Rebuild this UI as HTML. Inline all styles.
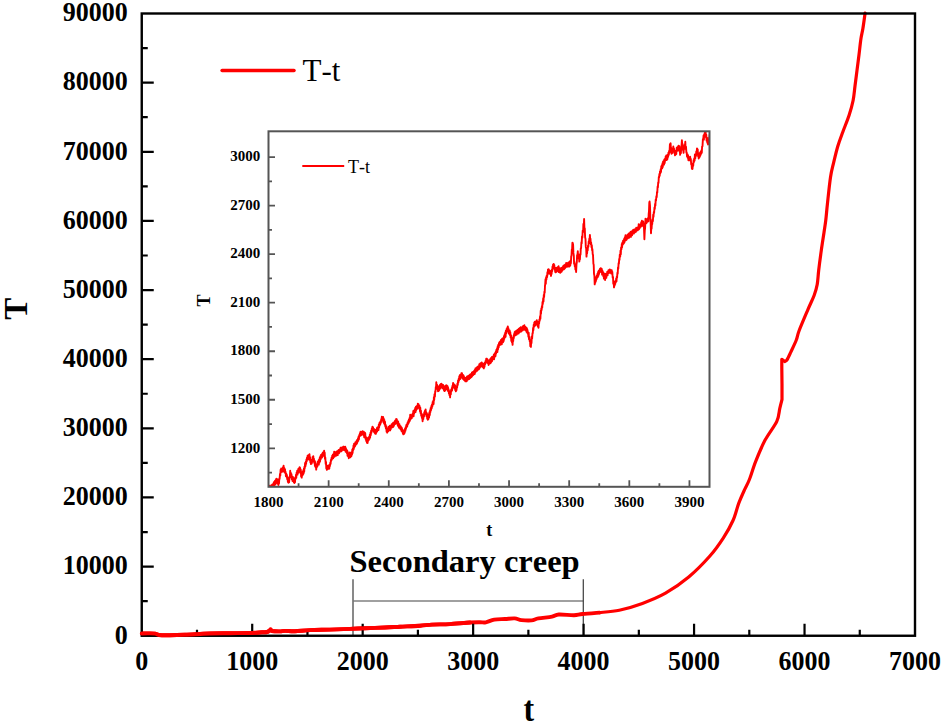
<!DOCTYPE html>
<html><head><meta charset="utf-8"><style>
html,body{margin:0;padding:0;background:#fff;width:943px;height:726px;overflow:hidden;}
body{position:relative;font-family:"Liberation Serif",serif;}
text{font-kerning:none;}
</style></head><body>
<svg width="943" height="726" viewBox="0 0 943 726" style="position:absolute;left:0;top:0">
<path d="M353.6,601 H583.3" stroke="#808080" stroke-width="1.3" fill="none"/>
<path d="M353,579.3 V635 M583.3,579.3 V635" stroke="#444" stroke-width="1.25" fill="none"/>
<path d="M599.50,612.60 C602.80,612.20 612.15,611.73 619.30,610.20 C626.45,608.67 634.70,606.23 642.40,603.40 C650.10,600.57 657.78,597.60 665.50,593.20 C673.22,588.80 681.30,583.20 688.70,577.00 C696.10,570.80 704.12,562.53 709.90,556.00 C715.68,549.47 719.55,543.72 723.40,537.80 C727.25,531.88 730.43,526.28 733.00,520.50 C735.57,514.72 736.87,508.25 738.80,503.10 C740.73,497.95 742.83,493.53 744.60,489.60 C746.37,485.67 747.53,484.25 749.40,479.50 C751.27,474.75 753.18,467.67 755.80,461.10 C758.42,454.53 761.60,446.73 765.10,440.10 C768.60,433.47 774.35,426.60 776.80,421.30 C779.25,416.00 778.93,411.93 779.80,408.30 C780.67,404.67 781.63,400.97 782.00,399.50 M782,399.5 L782,384 L781.8,367.5 L781.8,359.3 L784.8,361.5 M784.80,361.50 C785.17,361.22 786.00,361.37 787.00,359.80 C788.00,358.23 789.25,355.40 790.80,352.10 C792.35,348.80 794.93,343.52 796.30,340.00 C797.67,336.48 797.07,336.07 799.00,331.00 C800.93,325.93 805.37,315.57 807.90,309.60 C810.43,303.63 812.65,299.38 814.20,295.20 C815.75,291.02 816.45,288.67 817.20,284.50 C817.95,280.33 818.02,275.88 818.70,270.20 C819.38,264.52 820.42,256.68 821.30,250.40 C822.18,244.12 823.25,237.57 824.00,232.50 C824.75,227.43 825.23,224.73 825.80,220.00 C826.37,215.27 826.62,211.23 827.40,204.10 C828.18,196.97 829.47,184.08 830.50,177.20 C831.53,170.32 832.38,167.97 833.60,162.80 C834.82,157.63 836.25,151.38 837.80,146.20 C839.35,141.02 841.02,136.87 842.90,131.70 C844.78,126.53 847.40,120.40 849.10,115.20 C850.80,110.00 852.12,105.37 853.10,100.50 C854.08,95.63 854.35,91.02 855.00,86.00 C855.65,80.98 856.33,75.62 857.00,70.40 C857.67,65.18 858.35,59.93 859.00,54.70 C859.65,49.47 860.25,43.37 860.90,39.00 C861.55,34.63 862.20,32.82 862.90,28.50 C863.60,24.18 864.73,15.67 865.10,13.10" fill="none" stroke="#ff0000" stroke-width="3.2" stroke-linejoin="round" stroke-linecap="round"/>
<path d="M141.80,633.50 C142.83,633.48 145.80,633.38 148.00,633.40 C150.20,633.42 153.17,633.33 155.00,633.60 C156.83,633.87 156.50,634.73 159.00,635.00 C161.50,635.27 165.67,635.23 170.00,635.20 C174.33,635.17 180.00,635.00 185.00,634.80 C190.00,634.60 195.83,634.22 200.00,634.00 C204.17,633.78 205.00,633.63 210.00,633.50 C215.00,633.37 223.33,633.28 230.00,633.20 C236.67,633.12 244.67,633.15 250.00,633.00 C255.33,632.85 259.17,632.47 262.00,632.30 C264.83,632.13 265.75,632.28 267.00,632.00 C268.25,631.72 268.90,631.03 269.50,630.60 C270.10,630.17 270.18,629.33 270.60,629.40 C271.02,629.47 270.43,630.67 272.00,631.00 C273.57,631.33 277.83,631.42 280.00,631.40 C282.17,631.38 282.50,630.93 285.00,630.90 C287.50,630.87 290.83,631.33 295.00,631.20 C299.17,631.07 304.17,630.37 310.00,630.10 C315.83,629.83 323.33,629.80 330.00,629.60 C336.67,629.40 344.17,629.13 350.00,628.90 C355.83,628.67 359.17,628.43 365.00,628.20 C370.83,627.97 379.17,627.75 385.00,627.50 C390.83,627.25 394.17,627.00 400.00,626.70 C405.83,626.40 414.67,626.05 420.00,625.70 C425.33,625.35 427.00,624.87 432.00,624.60 C437.00,624.33 443.67,624.45 450.00,624.10 C456.33,623.75 465.00,622.82 470.00,622.50 C475.00,622.18 477.37,622.23 480.00,622.20 C482.63,622.17 483.42,622.73 485.80,622.30 C488.18,621.87 491.10,620.15 494.30,619.60 C497.50,619.05 501.60,619.20 505.00,619.00 C508.40,618.80 511.97,618.22 514.70,618.40 C517.43,618.58 518.58,619.77 521.40,620.10 C524.22,620.43 528.77,620.68 531.60,620.40 C534.43,620.12 535.00,619.02 538.40,618.40 C541.80,617.78 548.60,617.35 552.00,616.70 C555.40,616.05 555.13,614.75 558.80,614.50 C562.47,614.25 570.05,615.28 574.00,615.20 C577.95,615.12 578.25,614.43 582.50,614.00 C586.75,613.57 596.67,612.83 599.50,612.60" fill="none" stroke="#ff0000" stroke-width="3.9" stroke-linejoin="round" stroke-linecap="round"/>
<rect x="141.75" y="13.5" width="773.25" height="622.25" fill="none" stroke="#000" stroke-width="2.4"/>
<path d="M196.98,635.75 V629.75 M252.21,635.75 V623.75 M307.45,635.75 V629.75 M362.68,635.75 V623.75 M417.91,635.75 V629.75 M473.14,635.75 V623.75 M528.38,635.75 V629.75 M583.61,635.75 V623.75 M638.84,635.75 V629.75 M694.07,635.75 V623.75 M749.30,635.75 V629.75 M804.54,635.75 V623.75 M859.77,635.75 V629.75 M141.75,601.18 H147.75 M141.75,566.61 H153.75 M141.75,532.04 H147.75 M141.75,497.47 H153.75 M141.75,462.90 H147.75 M141.75,428.33 H153.75 M141.75,393.76 H147.75 M141.75,359.19 H153.75 M141.75,324.62 H147.75 M141.75,290.06 H153.75 M141.75,255.49 H147.75 M141.75,220.92 H153.75 M141.75,186.35 H147.75 M141.75,151.78 H153.75 M141.75,117.21 H147.75 M141.75,82.64 H153.75 M141.75,48.07 H147.75" stroke="#000" stroke-width="2.2" fill="none"/>
<path d="M141.80,633.50 C142.83,633.48 145.80,633.38 148.00,633.40 C150.20,633.42 153.17,633.33 155.00,633.60 C156.83,633.87 156.50,634.73 159.00,635.00 C161.50,635.27 165.67,635.23 170.00,635.20 C174.33,635.17 180.00,635.00 185.00,634.80 C190.00,634.60 195.83,634.22 200.00,634.00 C204.17,633.78 205.00,633.63 210.00,633.50 C215.00,633.37 223.33,633.28 230.00,633.20 C236.67,633.12 244.67,633.15 250.00,633.00 C255.33,632.85 259.17,632.47 262.00,632.30 C264.83,632.13 265.75,632.28 267.00,632.00 C268.25,631.72 268.90,631.03 269.50,630.60 C270.10,630.17 270.18,629.33 270.60,629.40 C271.02,629.47 270.43,630.67 272.00,631.00 C273.57,631.33 277.83,631.42 280.00,631.40 C282.17,631.38 282.50,630.93 285.00,630.90 C287.50,630.87 290.83,631.33 295.00,631.20 C299.17,631.07 304.17,630.37 310.00,630.10 C315.83,629.83 323.33,629.80 330.00,629.60 C336.67,629.40 344.17,629.13 350.00,628.90 C355.83,628.67 359.17,628.43 365.00,628.20 C370.83,627.97 379.17,627.75 385.00,627.50 C390.83,627.25 394.17,627.00 400.00,626.70 C405.83,626.40 414.67,626.05 420.00,625.70 C425.33,625.35 427.00,624.87 432.00,624.60 C437.00,624.33 443.67,624.45 450.00,624.10 C456.33,623.75 466.67,622.77 470.00,622.50" fill="none" stroke="#ff0000" stroke-width="3.9" stroke-linejoin="round" stroke-linecap="round"/>
<text transform="translate(141.75,670.1) scale(1,1.09)" font-family='"Liberation Serif", serif' font-weight="bold" font-size="26" text-anchor="middle">0</text>
<text transform="translate(252.21,670.1) scale(1,1.09)" font-family='"Liberation Serif", serif' font-weight="bold" font-size="26" text-anchor="middle">1000</text>
<text transform="translate(362.68,670.1) scale(1,1.09)" font-family='"Liberation Serif", serif' font-weight="bold" font-size="26" text-anchor="middle">2000</text>
<text transform="translate(473.14,670.1) scale(1,1.09)" font-family='"Liberation Serif", serif' font-weight="bold" font-size="26" text-anchor="middle">3000</text>
<text transform="translate(583.61,670.1) scale(1,1.09)" font-family='"Liberation Serif", serif' font-weight="bold" font-size="26" text-anchor="middle">4000</text>
<text transform="translate(694.07,670.1) scale(1,1.09)" font-family='"Liberation Serif", serif' font-weight="bold" font-size="26" text-anchor="middle">5000</text>
<text transform="translate(804.54,670.1) scale(1,1.09)" font-family='"Liberation Serif", serif' font-weight="bold" font-size="26" text-anchor="middle">6000</text>
<text transform="translate(915.00,670.1) scale(1,1.09)" font-family='"Liberation Serif", serif' font-weight="bold" font-size="26" text-anchor="middle">7000</text>
<text transform="translate(127.8,643.50) scale(1,1.09)" font-family='"Liberation Serif", serif' font-weight="bold" font-size="26" text-anchor="end">0</text>
<text transform="translate(127.8,574.36) scale(1,1.09)" font-family='"Liberation Serif", serif' font-weight="bold" font-size="26" text-anchor="end">10000</text>
<text transform="translate(127.8,505.22) scale(1,1.09)" font-family='"Liberation Serif", serif' font-weight="bold" font-size="26" text-anchor="end">20000</text>
<text transform="translate(127.8,436.08) scale(1,1.09)" font-family='"Liberation Serif", serif' font-weight="bold" font-size="26" text-anchor="end">30000</text>
<text transform="translate(127.8,366.94) scale(1,1.09)" font-family='"Liberation Serif", serif' font-weight="bold" font-size="26" text-anchor="end">40000</text>
<text transform="translate(127.8,297.81) scale(1,1.09)" font-family='"Liberation Serif", serif' font-weight="bold" font-size="26" text-anchor="end">50000</text>
<text transform="translate(127.8,228.67) scale(1,1.09)" font-family='"Liberation Serif", serif' font-weight="bold" font-size="26" text-anchor="end">60000</text>
<text transform="translate(127.8,159.53) scale(1,1.09)" font-family='"Liberation Serif", serif' font-weight="bold" font-size="26" text-anchor="end">70000</text>
<text transform="translate(127.8,90.39) scale(1,1.09)" font-family='"Liberation Serif", serif' font-weight="bold" font-size="26" text-anchor="end">80000</text>
<text transform="translate(127.8,21.25) scale(1,1.09)" font-family='"Liberation Serif", serif' font-weight="bold" font-size="26" text-anchor="end">90000</text>
<text transform="translate(528.8,720.9) scale(1,1.1)" font-family='"Liberation Serif", serif' font-weight="bold" font-size="32" text-anchor="middle">t</text>
<text transform="translate(26.5,308.7) rotate(-90)" x="0" y="0" font-family='"Liberation Serif", serif' font-weight="bold" font-size="33" text-anchor="middle">T</text>
<line x1="222.1" y1="70.6" x2="294" y2="70.6" stroke="#ff0000" stroke-width="3.5" stroke-linecap="round"/>
<text x="302.5" y="81.4" font-family='"Liberation Serif", serif' font-size="31">T-t</text>
<text x="349.5" y="571.5" font-family='"Liberation Serif", serif' font-weight="bold" font-size="32.5">Secondary creep</text>
<rect x="268.5" y="131.3" width="441.0" height="355.5" fill="#fff" stroke="none"/>
<clipPath id="ic"><rect x="268.5" y="131.3" width="441.0" height="355.5"/></clipPath>
<path clip-path="url(#ic)" d="M266.3,489.0 L266.6,492.3 L266.9,488.4 L267.2,491.1 L267.5,488.8 L267.8,490.8 L268.1,488.0 L268.5,490.6 L268.8,487.4 L269.1,490.9 L269.4,485.7 L269.7,490.2 L270.0,487.4 L270.3,490.4 L270.6,486.2 L271.0,489.2 L271.3,485.2 L271.6,489.1 L271.9,485.4 L272.2,488.1 L272.6,484.1 L272.9,487.2 L273.2,483.9 L273.5,487.2 L273.8,482.3 L274.1,485.8 L274.4,482.6 L274.7,484.4 L275.0,480.8 L275.4,484.6 L275.7,480.0 L276.0,483.3 L276.3,478.8 L276.6,482.2 L276.9,479.0 L277.2,482.7 L277.5,479.4 L277.8,483.8 L278.1,482.0 L278.4,485.0 L278.7,483.4 L279.0,483.5 L279.3,478.5 L279.6,479.0 L280.0,473.9 L280.3,475.6 L280.6,469.8 L280.9,472.5 L281.2,468.4 L281.5,471.8 L281.8,469.0 L282.1,471.9 L282.4,468.9 L282.7,471.2 L283.0,467.1 L283.3,470.9 L283.6,465.7 L284.0,471.6 L284.3,468.0 L284.6,472.2 L285.0,469.3 L285.3,473.2 L285.6,471.9 L285.9,476.1 L286.3,473.8 L286.6,476.9 L286.9,475.0 L287.2,479.1 L287.5,477.2 L287.9,481.9 L288.2,479.0 L288.5,482.7 L288.8,481.0 L289.1,482.4 L289.5,476.9 L289.9,477.4 L290.2,470.7 L290.5,476.5 L290.9,472.9 L291.2,477.1 L291.5,474.3 L291.8,479.2 L292.2,476.5 L292.5,481.0 L292.8,476.8 L293.1,481.3 L293.4,477.9 L293.8,482.2 L294.1,479.0 L294.4,483.0 L294.7,478.7 L295.0,482.3 L295.3,477.5 L295.6,479.0 L296.0,474.8 L296.3,477.7 L296.6,472.6 L296.9,474.5 L297.2,470.7 L297.5,474.6 L297.8,470.8 L298.1,473.1 L298.4,468.8 L298.7,472.3 L299.0,468.3 L299.3,471.1 L299.6,467.2 L299.9,470.2 L300.2,468.0 L300.5,473.3 L300.8,469.7 L301.1,476.5 L301.4,473.7 L301.7,477.6 L302.0,473.5 L302.3,475.7 L302.7,471.8 L303.0,474.7 L303.3,470.2 L303.6,473.5 L303.9,468.5 L304.2,471.8 L304.5,466.6 L304.8,468.2 L305.1,462.9 L305.5,466.1 L305.8,461.7 L306.1,464.0 L306.4,459.5 L306.7,461.3 L307.0,457.6 L307.3,459.9 L307.6,455.8 L307.9,459.6 L308.2,455.3 L308.6,458.7 L308.9,455.1 L309.2,458.2 L309.5,454.3 L309.8,460.0 L310.1,457.2 L310.4,462.5 L310.7,460.5 L311.0,464.1 L311.3,461.2 L311.7,463.6 L312.0,459.6 L312.3,462.0 L312.6,457.0 L313.0,459.9 L313.3,456.2 L313.6,461.3 L313.9,458.7 L314.3,462.8 L314.6,460.8 L314.9,465.9 L315.2,461.9 L315.6,467.2 L315.9,465.3 L316.2,469.6 L316.5,465.6 L316.9,467.1 L317.2,463.9 L317.5,466.1 L317.8,461.6 L318.2,464.3 L318.5,460.5 L318.8,464.6 L319.1,459.4 L319.5,462.6 L319.8,457.5 L320.1,461.2 L320.4,456.1 L320.8,459.1 L321.1,454.7 L321.4,457.5 L321.7,454.5 L322.0,457.6 L322.3,453.5 L322.6,456.6 L322.9,452.4 L323.2,455.9 L323.5,452.2 L323.8,454.6 L324.1,450.7 L324.4,453.0 L324.7,452.7 L325.0,459.0 L325.3,457.5 L325.7,464.0 L326.0,461.9 L326.3,468.4 L326.6,467.0 L326.9,469.8 L327.2,467.0 L327.5,469.2 L327.8,465.6 L328.1,468.9 L328.4,465.8 L328.7,468.1 L329.0,465.2 L329.3,468.7 L329.6,464.7 L329.9,466.2 L330.3,462.6 L330.6,464.0 L330.9,459.9 L331.2,460.9 L331.6,457.6 L331.9,459.8 L332.2,455.8 L332.5,458.5 L332.9,454.4 L333.2,458.2 L333.5,454.2 L333.8,456.4 L334.2,451.6 L334.5,456.7 L334.8,452.1 L335.1,455.2 L335.4,452.2 L335.8,455.9 L336.1,451.9 L336.4,455.6 L336.7,451.5 L337.1,454.9 L337.4,451.1 L337.7,455.1 L338.0,450.8 L338.3,453.4 L338.6,450.0 L339.0,453.3 L339.3,450.1 L339.6,452.2 L339.9,449.2 L340.2,451.6 L340.6,447.7 L340.9,451.4 L341.2,447.6 L341.6,451.2 L341.9,448.0 L342.2,450.2 L342.5,447.2 L342.9,449.4 L343.2,446.8 L343.5,449.9 L343.8,446.8 L344.2,450.1 L344.5,447.5 L344.9,450.3 L345.2,446.7 L345.6,451.7 L345.9,448.2 L346.2,451.8 L346.5,450.0 L346.9,453.2 L347.2,450.4 L347.5,455.7 L347.8,452.0 L348.2,456.3 L348.5,453.9 L348.8,458.2 L349.1,454.8 L349.4,457.3 L349.8,452.5 L350.1,457.4 L350.4,452.6 L350.7,456.8 L351.1,452.7 L351.4,456.3 L351.7,452.1 L352.0,454.6 L352.3,449.5 L352.6,453.0 L352.9,448.4 L353.2,450.1 L353.5,445.5 L353.8,449.0 L354.1,443.6 L354.4,447.2 L354.7,444.0 L355.1,446.3 L355.4,442.3 L355.7,444.9 L356.0,442.2 L356.4,444.4 L356.7,440.5 L357.0,443.5 L357.3,439.8 L357.6,441.9 L358.0,438.3 L358.3,440.9 L358.6,436.5 L358.9,439.4 L359.3,434.9 L359.6,436.4 L359.9,433.3 L360.2,435.6 L360.5,431.8 L360.9,435.5 L361.2,432.0 L361.5,435.0 L361.8,432.0 L362.2,434.4 L362.5,431.2 L362.8,434.2 L363.1,431.9 L363.5,435.2 L363.8,431.7 L364.2,437.3 L364.5,432.4 L364.9,437.4 L365.2,433.0 L365.6,438.9 L365.9,436.9 L366.2,440.9 L366.6,439.1 L366.9,442.7 L367.2,438.2 L367.6,443.0 L367.9,438.1 L368.2,440.9 L368.5,437.4 L368.9,440.0 L369.2,436.6 L369.5,439.0 L369.8,434.8 L370.1,437.7 L370.5,432.8 L370.8,435.3 L371.1,430.8 L371.4,432.8 L371.8,428.5 L372.1,430.6 L372.4,426.7 L372.7,430.4 L373.0,427.1 L373.4,430.9 L373.7,428.7 L374.0,432.0 L374.3,429.1 L374.7,432.8 L375.0,430.5 L375.3,433.7 L375.6,429.9 L375.9,433.9 L376.3,429.9 L376.6,432.3 L376.9,428.0 L377.2,431.4 L377.6,427.1 L377.9,430.1 L378.2,427.0 L378.5,430.0 L378.8,424.6 L379.1,427.6 L379.4,423.0 L379.7,425.6 L380.0,422.2 L380.3,424.4 L380.6,421.1 L380.9,422.8 L381.2,419.3 L381.5,420.9 L381.8,416.7 L382.1,420.6 L382.4,417.0 L382.7,420.2 L383.1,417.0 L383.4,422.1 L383.7,418.5 L384.0,423.2 L384.3,419.9 L384.6,424.5 L385.0,421.8 L385.3,426.5 L385.6,424.8 L385.9,428.3 L386.3,426.1 L386.6,431.6 L386.9,428.8 L387.2,432.6 L387.5,428.6 L387.8,431.4 L388.1,428.2 L388.4,431.2 L388.7,426.8 L389.0,430.1 L389.3,426.9 L389.6,429.3 L389.9,425.8 L390.2,430.4 L390.5,425.9 L390.8,429.3 L391.1,425.4 L391.4,427.6 L391.7,424.1 L392.0,427.1 L392.4,423.6 L392.7,427.2 L393.0,422.9 L393.3,426.7 L393.6,422.4 L393.9,425.9 L394.2,422.1 L394.6,424.3 L394.9,420.9 L395.2,423.9 L395.5,420.3 L395.9,423.8 L396.2,418.9 L396.5,422.6 L396.8,419.3 L397.1,423.1 L397.5,421.4 L397.8,425.5 L398.1,421.4 L398.4,426.4 L398.7,423.4 L399.0,427.7 L399.4,424.1 L399.7,427.8 L400.0,425.8 L400.3,428.9 L400.6,426.1 L400.9,429.6 L401.3,427.2 L401.6,431.1 L401.9,428.0 L402.2,431.8 L402.5,429.6 L402.9,433.6 L403.2,431.0 L403.5,434.3 L403.8,431.9 L404.1,433.9 L404.4,430.1 L404.7,432.9 L405.1,428.4 L405.4,431.0 L405.7,427.1 L406.0,428.9 L406.3,425.0 L406.6,427.5 L407.0,424.1 L407.3,426.2 L407.6,422.5 L407.9,424.4 L408.3,420.9 L408.6,423.1 L408.9,419.5 L409.2,422.0 L409.6,417.9 L409.9,420.7 L410.2,414.7 L410.5,419.2 L410.8,415.4 L411.1,418.2 L411.4,415.3 L411.7,418.4 L412.0,414.6 L412.3,417.0 L412.6,413.6 L412.9,415.8 L413.3,411.0 L413.6,416.3 L413.9,411.3 L414.2,413.6 L414.6,409.7 L414.9,412.3 L415.2,407.9 L415.6,412.0 L415.9,406.8 L416.2,410.3 L416.5,406.3 L416.8,409.3 L417.1,406.1 L417.5,408.1 L417.8,403.8 L418.1,407.5 L418.4,404.0 L418.7,406.9 L419.0,405.1 L419.3,408.7 L419.6,406.0 L420.0,411.4 L420.3,407.7 L420.6,413.3 L420.9,410.6 L421.2,415.8 L421.6,413.6 L421.9,418.0 L422.3,417.1 L422.6,421.3 L422.9,416.6 L423.3,419.1 L423.6,414.5 L424.0,416.6 L424.3,412.3 L424.6,414.3 L425.0,410.7 L425.3,412.6 L425.6,409.4 L425.9,414.4 L426.2,412.3 L426.5,416.3 L426.9,413.2 L427.2,418.6 L427.5,415.7 L427.8,419.7 L428.1,415.8 L428.4,419.2 L428.8,414.3 L429.1,417.4 L429.4,412.3 L429.8,415.1 L430.1,410.3 L430.4,412.1 L430.7,407.9 L431.1,410.1 L431.4,405.9 L431.7,408.4 L432.0,404.5 L432.3,406.7 L432.7,401.9 L433.0,404.7 L433.3,400.8 L433.6,404.0 L433.9,397.1 L434.2,399.9 L434.5,394.3 L434.9,396.7 L435.2,391.1 L435.5,391.6 L435.8,387.1 L436.1,387.0 L436.3,382.2 L436.6,386.8 L437.0,384.6 L437.3,388.9 L437.7,386.3 L438.0,391.2 L438.3,388.3 L438.6,391.1 L438.9,387.6 L439.2,390.2 L439.5,385.8 L439.8,388.7 L440.1,384.6 L440.4,388.6 L440.7,384.0 L441.0,387.2 L441.3,383.8 L441.6,387.4 L441.9,384.1 L442.2,387.6 L442.5,385.6 L442.8,388.2 L443.1,384.9 L443.4,389.0 L443.7,386.3 L444.0,390.4 L444.3,386.4 L444.6,391.1 L444.9,386.2 L445.2,390.3 L445.5,385.7 L445.9,388.9 L446.2,385.3 L446.5,389.1 L446.8,385.5 L447.1,389.5 L447.4,386.0 L447.7,390.6 L448.0,387.3 L448.3,391.1 L448.6,389.2 L448.9,393.5 L449.2,391.0 L449.5,395.1 L449.8,392.4 L450.1,397.4 L450.4,391.1 L450.8,394.4 L451.1,389.8 L451.4,391.4 L451.8,388.0 L452.1,390.5 L452.4,385.9 L452.7,387.8 L453.1,382.9 L453.4,386.5 L453.7,383.9 L454.0,387.1 L454.3,384.6 L454.6,388.5 L455.0,385.1 L455.3,390.1 L455.6,387.6 L455.9,391.3 L456.2,388.8 L456.5,390.3 L456.8,386.1 L457.1,387.6 L457.4,383.5 L457.8,385.0 L458.1,380.4 L458.4,382.3 L458.7,378.8 L459.0,380.7 L459.3,376.3 L459.7,379.3 L460.0,375.0 L460.4,379.0 L460.7,375.0 L461.0,377.6 L461.4,373.1 L461.7,376.5 L462.0,373.3 L462.3,377.7 L462.6,374.8 L463.0,378.8 L463.3,375.1 L463.6,379.2 L463.9,376.2 L464.2,380.1 L464.6,377.5 L464.9,380.7 L465.2,377.6 L465.5,381.4 L465.8,378.5 L466.1,380.9 L466.4,378.1 L466.7,381.2 L467.0,376.5 L467.3,380.1 L467.6,376.2 L467.9,379.7 L468.2,375.9 L468.6,378.8 L468.9,376.2 L469.2,379.1 L469.5,375.0 L469.8,378.1 L470.1,374.4 L470.4,378.0 L470.7,374.1 L471.0,377.4 L471.3,373.8 L471.6,377.0 L471.9,372.5 L472.2,376.1 L472.5,372.2 L472.8,375.4 L473.1,371.7 L473.4,375.0 L473.8,371.3 L474.1,374.0 L474.4,370.5 L474.7,374.0 L475.0,369.5 L475.3,372.7 L475.6,368.1 L475.9,371.7 L476.2,367.9 L476.5,371.0 L476.8,367.8 L477.1,370.9 L477.4,366.7 L477.7,370.1 L478.0,366.9 L478.3,369.4 L478.6,366.3 L478.9,369.4 L479.3,364.3 L479.6,368.1 L479.9,364.6 L480.2,367.1 L480.5,363.1 L480.8,366.4 L481.1,363.2 L481.4,365.6 L481.7,362.5 L482.0,366.5 L482.3,363.8 L482.6,366.8 L482.9,363.4 L483.2,367.5 L483.5,364.3 L483.8,368.4 L484.1,364.3 L484.5,367.0 L484.8,362.8 L485.1,364.4 L485.5,361.0 L485.9,362.8 L486.2,358.7 L486.5,362.6 L486.9,358.7 L487.2,362.4 L487.5,359.4 L487.9,363.2 L488.2,360.5 L488.6,365.0 L488.9,361.6 L489.2,363.8 L489.5,360.1 L489.8,363.0 L490.1,359.3 L490.4,363.3 L490.7,358.5 L491.0,362.5 L491.3,357.7 L491.6,361.4 L491.9,357.0 L492.2,360.9 L492.5,356.9 L492.8,359.1 L493.1,356.4 L493.4,358.2 L493.8,354.8 L494.1,359.2 L494.5,353.8 L494.8,356.9 L495.1,352.9 L495.5,356.3 L495.8,351.5 L496.1,353.6 L496.4,349.7 L496.8,352.2 L497.1,348.2 L497.4,352.0 L497.7,346.2 L498.0,349.4 L498.3,344.7 L498.7,347.5 L499.0,343.0 L499.3,345.5 L499.6,342.0 L499.9,344.6 L500.2,341.4 L500.6,344.8 L500.9,340.0 L501.2,343.3 L501.5,339.7 L501.8,344.2 L502.1,338.6 L502.5,341.6 L502.8,339.2 L503.1,342.2 L503.4,337.7 L503.7,341.0 L504.0,336.0 L504.3,339.0 L504.7,334.3 L505.0,337.3 L505.3,332.5 L505.6,336.8 L505.9,330.6 L506.2,333.5 L506.6,329.0 L506.9,331.7 L507.2,327.9 L507.5,330.2 L507.8,326.4 L508.1,330.9 L508.4,328.3 L508.7,333.3 L509.1,330.6 L509.4,334.1 L509.7,330.5 L510.0,335.1 L510.3,332.2 L510.6,337.4 L511.0,335.1 L511.3,340.9 L511.6,337.8 L512.0,342.5 L512.3,341.7 L512.6,344.8 L512.9,338.5 L513.2,341.2 L513.5,336.0 L513.8,338.3 L514.1,334.0 L514.4,335.9 L514.7,332.0 L515.0,334.8 L515.3,331.4 L515.6,335.4 L515.9,331.9 L516.2,334.6 L516.5,330.6 L516.8,334.5 L517.1,330.2 L517.4,333.5 L517.7,329.6 L518.0,333.6 L518.3,329.8 L518.6,333.4 L518.9,328.7 L519.2,332.4 L519.5,328.2 L519.8,331.6 L520.1,327.7 L520.4,331.7 L520.7,327.3 L521.0,331.6 L521.3,327.5 L521.7,331.0 L522.0,327.6 L522.3,330.6 L522.6,326.5 L522.9,330.2 L523.2,325.9 L523.5,329.1 L523.8,325.6 L524.1,328.5 L524.4,325.3 L524.7,329.8 L525.0,326.7 L525.3,330.0 L525.6,327.0 L526.0,330.6 L526.3,327.7 L526.6,332.0 L526.9,328.3 L527.2,332.6 L527.5,330.0 L527.8,333.8 L528.1,332.3 L528.4,336.6 L528.7,332.8 L529.0,339.1 L529.4,336.9 L529.7,341.3 L530.0,339.9 L530.3,346.1 L530.6,341.6 L530.9,346.9 L531.2,340.9 L531.5,343.1 L531.8,336.5 L532.1,338.7 L532.5,333.1 L532.8,333.3 L533.1,327.9 L533.4,330.3 L533.7,324.7 L534.0,326.9 L534.3,322.5 L534.6,326.2 L534.9,321.6 L535.3,325.1 L535.6,321.8 L535.9,325.0 L536.2,321.1 L536.5,323.2 L536.8,320.1 L537.2,324.1 L537.5,321.8 L537.8,326.5 L538.2,323.1 L538.5,327.7 L538.8,322.3 L539.1,323.6 L539.4,319.4 L539.7,320.8 L540.1,316.1 L540.4,318.8 L540.7,310.7 L541.0,313.7 L541.3,308.5 L541.6,310.1 L541.9,306.1 L542.2,307.6 L542.5,302.0 L542.8,304.1 L543.2,298.3 L543.5,301.4 L543.8,294.9 L544.1,297.1 L544.4,291.6 L544.7,292.8 L545.0,285.5 L545.2,284.3 L545.5,279.2 L545.8,283.7 L546.1,277.3 L546.4,279.8 L546.7,275.6 L547.1,277.3 L547.4,272.3 L547.7,274.7 L548.0,269.4 L548.3,272.7 L548.6,269.2 L548.9,272.2 L549.3,270.2 L549.6,273.5 L550.0,270.7 L550.3,274.1 L550.6,272.2 L551.0,276.0 L551.3,273.1 L551.6,274.0 L551.9,269.7 L552.2,271.2 L552.5,266.5 L552.8,268.8 L553.1,264.4 L553.4,265.6 L553.7,264.0 L554.0,267.6 L554.3,265.0 L554.6,269.4 L554.9,267.8 L555.2,271.9 L555.5,269.4 L555.8,272.4 L556.1,268.0 L556.4,271.9 L556.7,268.6 L557.0,271.5 L557.3,267.4 L557.6,269.9 L557.9,266.9 L558.2,269.8 L558.6,266.3 L558.9,272.1 L559.2,267.9 L559.6,270.9 L559.9,268.4 L560.3,272.9 L560.6,269.6 L560.9,272.1 L561.2,268.0 L561.5,271.9 L561.8,268.3 L562.2,270.7 L562.5,267.3 L562.8,270.0 L563.1,266.3 L563.4,269.0 L563.7,265.4 L564.0,269.3 L564.3,265.3 L564.6,268.7 L565.0,264.7 L565.3,268.0 L565.6,264.3 L565.9,266.9 L566.2,262.9 L566.5,266.8 L566.8,263.6 L567.1,266.9 L567.4,263.2 L567.8,266.4 L568.1,262.7 L568.4,266.0 L568.7,263.3 L569.0,266.6 L569.3,261.9 L569.7,266.3 L570.0,261.2 L570.3,265.4 L570.6,262.6 L570.9,263.1 L571.2,256.2 L571.5,255.9 L571.8,249.6 L572.1,249.7 L572.4,242.7 L572.7,243.0 L573.1,244.8 L573.4,252.9 L573.8,255.6 L574.1,263.6 L574.4,262.0 L574.8,266.5 L575.1,264.2 L575.4,269.4 L575.8,266.8 L576.1,272.0 L576.5,264.1 L576.8,262.6 L577.1,255.1 L577.5,254.7 L577.8,251.3 L578.1,256.5 L578.4,254.5 L578.7,258.5 L579.0,257.0 L579.3,261.6 L579.6,259.5 L579.9,259.5 L580.2,253.9 L580.5,254.7 L580.8,248.4 L581.1,248.3 L581.4,242.2 L581.7,243.4 L582.0,236.4 L582.4,237.6 L582.7,230.6 L583.1,232.2 L583.4,223.9 L583.8,226.0 L584.1,219.0 L584.4,227.7 L584.8,228.7 L585.1,237.3 L585.5,239.0 L585.8,246.9 L586.2,248.5 L586.5,256.6 L586.8,251.3 L587.1,253.5 L587.4,248.8 L587.7,250.4 L588.0,245.8 L588.4,246.8 L588.7,241.5 L589.0,243.4 L589.3,238.6 L589.6,240.6 L589.9,234.9 L590.2,240.6 L590.5,238.8 L590.8,244.2 L591.1,242.4 L591.5,247.1 L591.8,245.3 L592.1,250.1 L592.4,249.1 L592.7,254.1 L593.0,254.9 L593.4,263.8 L593.7,264.8 L594.0,273.8 L594.4,275.8 L594.7,284.4 L595.0,279.5 L595.3,282.7 L595.6,277.6 L595.9,281.2 L596.3,276.9 L596.6,279.1 L596.9,275.4 L597.2,277.7 L597.5,273.6 L597.8,277.0 L598.1,271.9 L598.4,275.7 L598.7,270.7 L599.0,274.2 L599.4,270.0 L599.7,272.5 L600.0,268.8 L600.3,271.8 L600.6,268.3 L600.9,271.0 L601.2,268.4 L601.5,271.9 L601.8,268.9 L602.1,274.6 L602.4,270.6 L602.7,274.2 L603.0,272.0 L603.3,276.3 L603.6,273.1 L603.9,278.6 L604.2,274.1 L604.5,278.1 L604.8,273.8 L605.1,280.0 L605.4,275.0 L605.7,278.1 L606.0,273.8 L606.3,277.9 L606.6,273.4 L607.0,275.7 L607.3,271.6 L607.6,275.4 L607.9,271.5 L608.2,273.4 L608.5,270.2 L608.8,272.8 L609.1,270.1 L609.5,272.7 L609.8,269.4 L610.1,272.9 L610.4,270.2 L610.7,272.6 L611.0,270.1 L611.4,273.6 L611.7,270.2 L612.0,272.8 L612.3,271.8 L612.7,277.7 L613.0,276.8 L613.3,283.6 L613.7,281.4 L614.0,287.4 L614.3,284.1 L614.6,285.8 L614.9,281.7 L615.2,284.1 L615.6,280.6 L615.9,282.2 L616.2,278.4 L616.5,281.4 L616.8,276.6 L617.1,277.6 L617.4,272.8 L617.7,273.8 L618.0,267.4 L618.3,268.8 L618.6,263.1 L618.9,263.6 L619.2,258.9 L619.5,259.9 L619.8,254.6 L620.2,256.6 L620.5,250.6 L620.8,254.1 L621.1,247.5 L621.5,249.3 L621.8,244.0 L622.1,247.3 L622.4,242.4 L622.8,244.6 L623.1,240.6 L623.4,243.9 L623.7,240.0 L624.0,243.1 L624.3,238.4 L624.6,242.0 L624.9,237.3 L625.2,240.4 L625.5,235.3 L625.9,240.3 L626.2,236.9 L626.5,239.9 L626.9,236.2 L627.2,238.4 L627.5,234.8 L627.8,238.5 L628.2,234.2 L628.5,237.4 L628.8,233.4 L629.1,237.8 L629.4,233.2 L629.7,236.8 L630.0,233.6 L630.3,236.0 L630.6,231.8 L630.9,236.9 L631.2,231.5 L631.5,235.1 L631.8,231.2 L632.1,235.2 L632.4,231.0 L632.7,233.7 L633.0,230.0 L633.3,233.1 L633.6,229.8 L633.9,233.6 L634.2,229.7 L634.6,232.1 L634.9,229.2 L635.2,232.2 L635.5,229.0 L635.9,231.9 L636.2,227.8 L636.5,230.8 L636.8,227.9 L637.2,230.3 L637.5,227.7 L637.8,230.4 L638.1,227.0 L638.4,229.5 L638.7,224.1 L639.0,229.3 L639.3,224.8 L639.7,228.2 L640.0,224.4 L640.3,226.9 L640.6,224.3 L640.9,226.8 L641.2,222.2 L641.5,225.6 L641.9,220.8 L642.2,225.8 L642.5,222.1 L642.8,225.3 L643.2,221.5 L643.5,224.7 L644.0,228.3 L644.4,239.2 L644.8,230.3 L645.1,228.1 L645.5,218.6 L645.8,223.1 L646.1,219.1 L646.5,223.3 L646.8,219.1 L647.1,222.1 L647.4,219.4 L647.8,221.6 L648.1,217.9 L648.4,221.2 L648.7,213.8 L649.0,211.0 L649.3,202.8 L649.6,201.5 L650.0,205.7 L650.3,217.0 L650.6,221.6 L651.0,233.2 L651.3,227.8 L651.6,228.6 L651.9,223.5 L652.2,224.1 L652.6,219.4 L652.9,221.3 L653.2,214.6 L653.5,216.9 L653.8,212.0 L654.1,213.0 L654.5,207.4 L654.8,209.0 L655.1,203.9 L655.4,205.6 L655.7,199.6 L656.0,200.7 L656.4,196.1 L656.7,197.3 L657.0,192.0 L657.3,192.4 L657.6,186.5 L657.9,187.4 L658.2,182.4 L658.5,183.0 L658.8,177.0 L659.1,177.5 L659.4,174.0 L659.7,175.9 L660.0,171.4 L660.3,173.5 L660.7,169.1 L661.0,171.9 L661.3,166.3 L661.6,168.8 L661.9,165.1 L662.2,168.3 L662.5,163.3 L662.8,167.0 L663.1,161.4 L663.4,164.9 L663.7,161.0 L664.0,164.6 L664.3,159.4 L664.7,163.1 L665.0,158.8 L665.3,160.7 L665.7,156.4 L666.0,158.8 L666.3,155.4 L666.7,160.1 L667.0,156.0 L667.4,159.2 L667.7,154.6 L668.1,157.0 L668.4,152.8 L668.8,155.0 L669.1,150.9 L669.5,152.8 L669.9,144.5 L670.3,143.8 L670.6,143.3 L670.9,149.1 L671.2,147.9 L671.5,153.8 L671.9,150.6 L672.2,153.1 L672.6,148.9 L672.9,151.1 L673.3,146.5 L673.6,150.3 L674.0,148.5 L674.3,153.0 L674.6,150.7 L675.0,155.4 L675.3,153.1 L675.6,154.7 L676.0,150.4 L676.3,154.0 L676.7,147.7 L677.0,151.3 L677.3,147.2 L677.6,150.3 L677.9,147.4 L678.2,150.3 L678.5,145.6 L678.8,150.3 L679.1,145.9 L679.5,151.4 L679.8,149.7 L680.1,154.9 L680.5,152.2 L680.9,153.2 L681.2,146.3 L681.5,146.4 L681.9,140.2 L682.2,145.5 L682.5,143.9 L682.9,150.0 L683.2,149.4 L683.6,152.8 L683.9,146.8 L684.2,149.0 L684.6,144.9 L684.9,146.4 L685.3,141.8 L685.6,148.7 L686.0,146.7 L686.4,152.7 L686.7,152.4 L687.0,156.5 L687.4,154.2 L687.7,157.7 L688.0,155.1 L688.4,160.3 L688.7,157.6 L689.1,160.0 L689.4,157.2 L689.8,160.4 L690.1,156.6 L690.5,159.9 L690.8,158.8 L691.2,164.5 L691.5,163.4 L691.9,168.7 L692.2,167.4 L692.5,169.0 L692.9,164.0 L693.2,165.9 L693.6,160.2 L693.9,162.2 L694.2,158.5 L694.6,160.7 L694.9,154.4 L695.3,158.4 L695.6,154.4 L696.0,156.0 L696.3,151.4 L696.7,152.2 L697.0,148.4 L697.4,149.6 L697.7,149.4 L698.1,156.3 L698.4,156.1 L698.7,158.5 L699.0,154.6 L699.3,157.6 L699.6,153.3 L699.9,156.6 L700.2,152.4 L700.5,155.2 L700.8,151.4 L701.1,154.0 L701.5,150.3 L701.8,152.7 L702.1,146.5 L702.5,146.3 L702.9,139.1 L703.2,139.5 L703.6,135.4 L703.9,139.6 L704.2,134.2 L704.6,136.3 L704.9,132.2 L705.3,134.4 L705.6,131.8 L706.0,137.4 L706.3,134.7 L706.6,140.6 L707.0,137.6 L707.3,142.7 L707.7,140.5 L708.0,144.5 L708.4,143.2 L708.7,143.8 L709.1,137.6 L709.4,137.6 L709.7,134.6 L710.0,137.6 L710.4,132.9 L710.7,135.9 L711.0,134.0" fill="none" stroke="#ff0000" stroke-width="1.9" stroke-linejoin="round"/>
<rect x="268.5" y="131.3" width="441.0" height="355.5" fill="none" stroke="#555" stroke-width="2"/>
<path d="M298.57,486.8 V483.3 M328.64,486.8 V480.3 M358.70,486.8 V483.3 M388.77,486.8 V480.3 M418.84,486.8 V483.3 M448.91,486.8 V480.3 M478.98,486.8 V483.3 M509.05,486.8 V480.3 M539.11,486.8 V483.3 M569.18,486.8 V480.3 M599.25,486.8 V483.3 M629.32,486.8 V480.3 M659.39,486.8 V483.3 M689.45,486.8 V480.3 M268.5,472.57 H272.0 M268.5,448.30 H275.0 M268.5,424.03 H272.0 M268.5,399.77 H275.0 M268.5,375.50 H272.0 M268.5,351.23 H275.0 M268.5,326.97 H272.0 M268.5,302.70 H275.0 M268.5,278.43 H272.0 M268.5,254.16 H275.0 M268.5,229.90 H272.0 M268.5,205.63 H275.0 M268.5,181.36 H272.0 M268.5,157.10 H275.0" stroke="#555" stroke-width="1.8" fill="none"/>
<text x="268.50" y="506.5" font-family='"Liberation Serif", serif' font-weight="bold" font-size="15" text-anchor="middle">1800</text>
<text x="328.64" y="506.5" font-family='"Liberation Serif", serif' font-weight="bold" font-size="15" text-anchor="middle">2100</text>
<text x="388.77" y="506.5" font-family='"Liberation Serif", serif' font-weight="bold" font-size="15" text-anchor="middle">2400</text>
<text x="448.91" y="506.5" font-family='"Liberation Serif", serif' font-weight="bold" font-size="15" text-anchor="middle">2700</text>
<text x="509.05" y="506.5" font-family='"Liberation Serif", serif' font-weight="bold" font-size="15" text-anchor="middle">3000</text>
<text x="569.18" y="506.5" font-family='"Liberation Serif", serif' font-weight="bold" font-size="15" text-anchor="middle">3300</text>
<text x="629.32" y="506.5" font-family='"Liberation Serif", serif' font-weight="bold" font-size="15" text-anchor="middle">3600</text>
<text x="689.45" y="506.5" font-family='"Liberation Serif", serif' font-weight="bold" font-size="15" text-anchor="middle">3900</text>
<text x="260.3" y="452.50" font-family='"Liberation Serif", serif' font-weight="bold" font-size="15" text-anchor="end">1200</text>
<text x="260.3" y="403.97" font-family='"Liberation Serif", serif' font-weight="bold" font-size="15" text-anchor="end">1500</text>
<text x="260.3" y="355.43" font-family='"Liberation Serif", serif' font-weight="bold" font-size="15" text-anchor="end">1800</text>
<text x="260.3" y="306.90" font-family='"Liberation Serif", serif' font-weight="bold" font-size="15" text-anchor="end">2100</text>
<text x="260.3" y="258.36" font-family='"Liberation Serif", serif' font-weight="bold" font-size="15" text-anchor="end">2400</text>
<text x="260.3" y="209.83" font-family='"Liberation Serif", serif' font-weight="bold" font-size="15" text-anchor="end">2700</text>
<text x="260.3" y="161.30" font-family='"Liberation Serif", serif' font-weight="bold" font-size="15" text-anchor="end">3000</text>
<text x="489.2" y="535.9" font-family='"Liberation Serif", serif' font-weight="bold" font-size="18" text-anchor="middle">t</text>
<text transform="translate(210,300.4) rotate(-90)" x="0" y="0" font-family='"Liberation Serif", serif' font-weight="bold" font-size="18" text-anchor="middle">T</text>
<line x1="302.3" y1="165.9" x2="344.2" y2="165.9" stroke="#ff0000" stroke-width="2"/>
<text x="348" y="172.5" font-family='"Liberation Serif", serif' font-size="18">T-t</text>
</svg>
</body></html>
